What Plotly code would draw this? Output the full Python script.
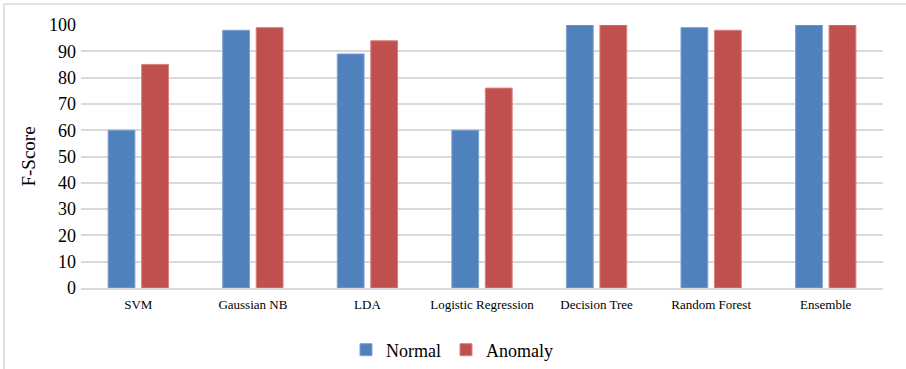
import plotly.graph_objects as go

# Classifier F-scores for normal vs anomalous traffic
models = ["SVM", "Gaussian NB", "LDA", "Logistic Regression",
          "Decision Tree", "Random Forest", "Ensemble"]
normal_scores = [60, 98, 89, 60, 100, 99, 100]
anomaly_scores = [85, 99, 94, 76, 100, 98, 100]
y_ticks = list(range(0, 101, 10))

BLUE = "#4F81BD"
RED = "#C0504D"
GRID = "#D9D9D9"
FONT = "Liberation Serif, Times New Roman, serif"

fig = go.Figure()
fig.add_trace(go.Bar(
    x=models, y=normal_scores, name="Normal",
    marker=dict(color=BLUE, line=dict(color="#7FA3D3", width=1)),
))
fig.add_trace(go.Bar(
    x=models, y=anomaly_scores, name="Anomaly",
    marker=dict(color=RED, line=dict(color="#D9807E", width=1)),
))

W, H = 906, 369
L, R, T, B = 81, 23, 25, 81
plot_w = W - L - R
plot_h = H - T - B


def px_x(px):
    return (px - L) / plot_w


def px_y(py):
    return (H - B - py) / plot_h


# chart frame: top and left edges of the outer border
frame = dict(type="line", xref="paper", yref="paper",
             line=dict(color="#D9D9D9", width=1.5), layer="below")

fig.update_layout(
    width=W, height=H,
    margin=dict(l=L, r=R, t=T, b=B, autoexpand=False),
    paper_bgcolor="white", plot_bgcolor="white",
    barmode="group", bargap=0.415, bargroupgap=0.2,
    font=dict(family=FONT, color="#000000"),
    showlegend=True,
    legend=dict(
        orientation="h", xref="container", yref="container",
        x=(462 - 10) / W, xanchor="center",
        y=1 - 350 / H, yanchor="middle",
        font=dict(family=FONT, size=18, color="#000000"),
        itemwidth=30, traceorder="normal",
    ),
    xaxis=dict(
        tickfont=dict(family=FONT, size=13),
        showgrid=False, showline=True, linecolor=GRID, linewidth=1.5,
        ticks="", zeroline=False, automargin=False,
        ticklabelstandoff=4,
    ),
    yaxis=dict(
        range=[0, 100], tickvals=y_ticks,
        tickfont=dict(family=FONT, size=18),
        showgrid=True, gridcolor=GRID, gridwidth=1.5,
        zeroline=False, showline=False, ticks="", automargin=False,
        ticklabelstandoff=4,
        title=dict(text="F-Score", font=dict(family=FONT, size=19), standoff=8),
    ),
    shapes=[
        dict(frame, x0=px_x(4), x1=px_x(906), y0=px_y(4), y1=px_y(4)),
        dict(frame, x0=px_x(4), x1=px_x(4), y0=px_y(4), y1=px_y(369)),
    ],
)

fig.write_html("out.html")
